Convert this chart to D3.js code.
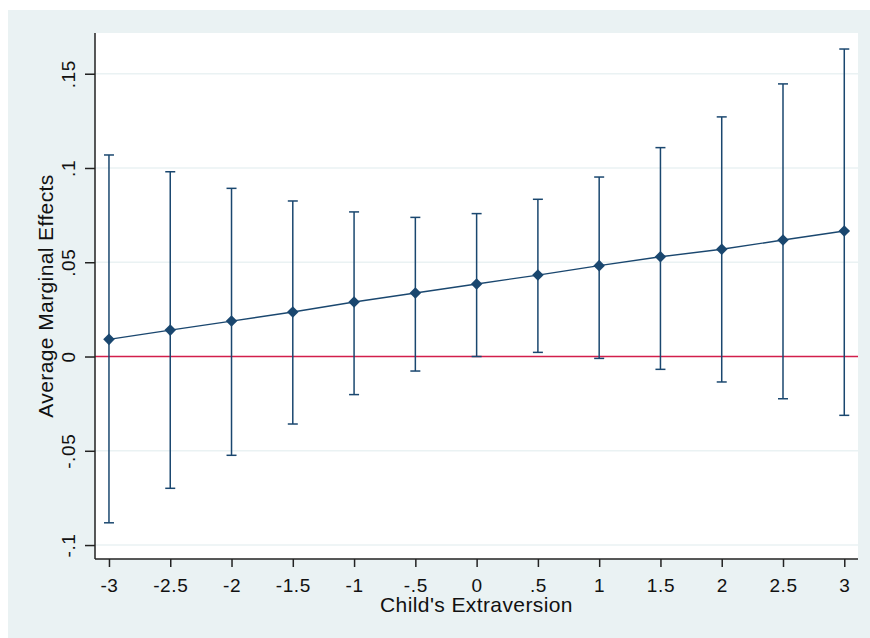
<!DOCTYPE html>
<html>
<head>
<meta charset="utf-8">
<script src="https://cdn.jsdelivr.net/npm/d3@7"></script>
<style>
  body { margin: 0; background: #fff; }
  svg text { font-family: "Liberation Sans", Arial, sans-serif; fill: #111; }
</style>
</head>
<body>
<script>
// average marginal effects by child's extraversion
var xValues = [-3, -2.5, -2, -1.5, -1, -0.5, 0, 0.5, 1, 1.5, 2, 2.5, 3];
var effect = [0.0091, 0.0140, 0.0188, 0.0236, 0.0289, 0.0337, 0.0385, 0.0432, 0.0482, 0.0529, 0.0569, 0.0618, 0.0666];
var upperCI = [0.1069, 0.0980, 0.0892, 0.0825, 0.0767, 0.0738, 0.0758, 0.0834, 0.0952, 0.1108, 0.1271, 0.1446, 0.1631];
var lowerCI = [-0.0882, -0.0699, -0.0524, -0.0358, -0.0202, -0.0077, 0.0000, 0.0022, -0.0010, -0.0068, -0.0135, -0.0224, -0.0312];
var yTicks = [-0.1, -0.05, 0, 0.05, 0.1, 0.15];
var yTickLabels = ["-.1", "-.05", "0", ".05", ".1", ".15"];
var xTickLabels = ["-3", "-2.5", "-2", "-1.5", "-1", "-.5", "0", ".5", "1", "1.5", "2", "2.5", "3"];

var w = 870;
var h = 638;
var navy = "#1a476f";

var svg = d3.select("body")
      .append("svg")
      .attr("width", w)
      .attr("height", h);

// graph region background
svg.append("rect")
  .attr("x", 8).attr("y", 10)
  .attr("width", w - 8).attr("height", h - 10)
  .attr("fill", "#eaf2f3");

var pLeft = 95, pRight = 858, pTop = 33, pBottom = 559;

svg.append("rect")
  .attr("x", pLeft).attr("y", pTop)
  .attr("width", pRight - pLeft).attr("height", pBottom - pTop)
  .attr("fill", "#fff");

var scaleX = d3.scaleLinear()
  .domain([-3.114, 3.112])
  .range([pLeft, pRight]);

var scaleY = d3.scaleLinear()
  .domain([-0.1074, 0.1716])
  .range([pBottom, pTop]);

// gridlines
svg.selectAll("line.grid")
  .data(yTicks.filter(function(d) { return d !== 0; }))
  .enter()
  .append("line")
  .attr("class", "grid")
  .attr("x1", pLeft).attr("x2", pRight)
  .attr("y1", function(d) { return scaleY(d); })
  .attr("y2", function(d) { return scaleY(d); })
  .attr("stroke", "#eaf2f3")
  .attr("stroke-width", 1.5);

// zero reference line
svg.append("line")
  .attr("x1", pLeft).attr("x2", pRight)
  .attr("y1", scaleY(0)).attr("y2", scaleY(0))
  .attr("stroke", "#d21f4b")
  .attr("stroke-width", 1.5);

var data = xValues.map(function(x, i) {
  return { x: x, y: effect[i], hi: upperCI[i], lo: lowerCI[i] };
});

// error bars
svg.selectAll("line.ci")
  .data(data)
  .enter()
  .append("line")
  .attr("class", "ci")
  .attr("x1", function(d) { return scaleX(d.x); })
  .attr("x2", function(d) { return scaleX(d.x); })
  .attr("y1", function(d) { return scaleY(d.lo); })
  .attr("y2", function(d) { return scaleY(d.hi); })
  .attr("stroke", navy)
  .attr("stroke-width", 1.5);

["hi", "lo"].forEach(function(k) {
  svg.selectAll("line.cap" + k)
    .data(data)
    .enter()
    .append("line")
    .attr("class", "cap" + k)
    .attr("x1", function(d) { return scaleX(d.x) - 5; })
    .attr("x2", function(d) { return scaleX(d.x) + 5; })
    .attr("y1", function(d) { return scaleY(d[k]); })
    .attr("y2", function(d) { return scaleY(d[k]); })
    .attr("stroke", navy)
    .attr("stroke-width", 1.5);
});

// connecting line
var line = d3.line()
  .x(function(d) { return scaleX(d.x); })
  .y(function(d) { return scaleY(d.y); });

svg.append("path")
  .datum(data)
  .attr("d", line)
  .attr("fill", "none")
  .attr("stroke", navy)
  .attr("stroke-width", 1.4);

// diamond markers
svg.selectAll("path.pt")
  .data(data)
  .enter()
  .append("path")
  .attr("class", "pt")
  .attr("d", d3.symbol().type(d3.symbolDiamond2).size(85))
  .attr("transform", function(d) {
    return "translate(" + scaleX(d.x) + "," + scaleY(d.y) + ")";
  })
  .attr("fill", navy);

// axes
var xAxis = d3.axisBottom(scaleX)
  .tickValues(xValues)
  .tickFormat(function(d, i) { return xTickLabels[i]; })
  .tickSize(8)
  .tickPadding(6);

var yAxis = d3.axisLeft(scaleY)
  .tickValues(yTicks)
  .tickFormat(function(d, i) { return yTickLabels[i]; })
  .tickSize(10);

var gx = svg.append("g")
  .attr("transform", "translate(0," + pBottom + ")")
  .call(xAxis);
gx.select(".domain").attr("d", "M" + pLeft + ",0H" + pRight).attr("stroke", "#222").attr("stroke-width", 1.5);
gx.selectAll(".tick line").attr("stroke", "#222").attr("stroke-width", 1.5);
gx.selectAll(".tick text")
  .attr("font-size", 19)
  .attr("letter-spacing", 0.6)
  .attr("fill", "#111")
  .attr("dy", null)
  .attr("y", 33);

var gy = svg.append("g")
  .attr("transform", "translate(" + pLeft + ",0)")
  .call(yAxis);
gy.select(".domain").attr("d", "M0," + pTop + "V" + pBottom).attr("stroke", "#222").attr("stroke-width", 1.5);
gy.selectAll(".tick line").attr("stroke", "#222").attr("stroke-width", 1.5);
gy.selectAll(".tick text")
  .attr("font-size", 19)
  .attr("letter-spacing", 0.6)
  .attr("fill", "#111")
  .attr("x", null).attr("dy", null)
  .attr("text-anchor", "middle")
  .attr("transform", "translate(-20,0) rotate(-90)");

// axis titles
svg.append("text")
  .attr("x", (pLeft + pRight) / 2)
  .attr("y", 612)
  .attr("text-anchor", "middle")
  .attr("font-size", 21)
  .attr("letter-spacing", 0.4)
  .text("Child's Extraversion");

svg.append("text")
  .attr("transform", "translate(53," + ((pTop + pBottom) / 2) + ") rotate(-90)")
  .attr("text-anchor", "middle")
  .attr("font-size", 21)
  .attr("letter-spacing", 0.4)
  .text("Average Marginal Effects");
</script>
</body>
</html>
